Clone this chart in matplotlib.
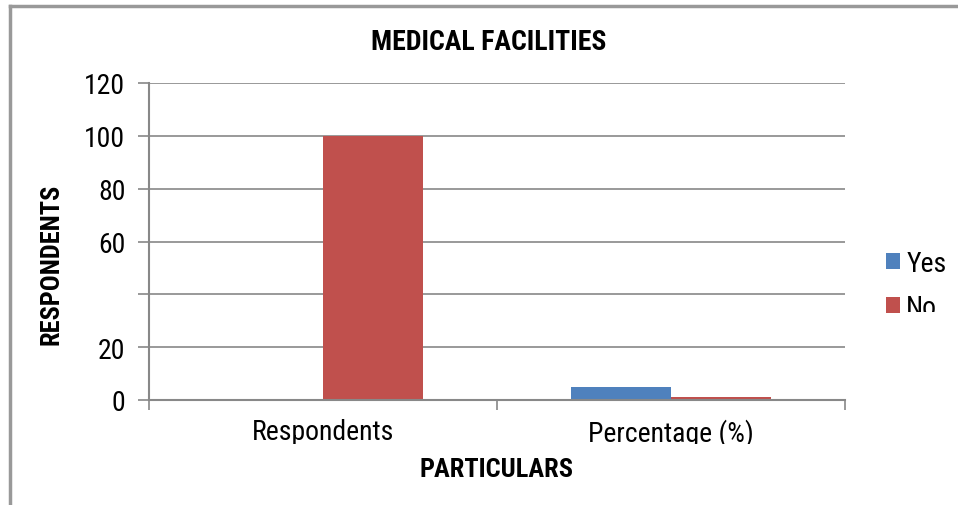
import numpy as np
import matplotlib
matplotlib.use('Agg')
import matplotlib.pyplot as plt
from matplotlib import font_manager
from matplotlib.transforms import Bbox, TransformedBbox

categories = ['Respondents', 'Percentage (%)']
yes_vals = [0, 5]
no_vals = [100, 1]
y_ticks = [0, 20, 40, 60, 80, 100, 120]
y_labels = ['0', '20', '', '60', '80', '100', '120']

names = {f.name for f in font_manager.fontManager.ttflist}
font = next(n for n in ['Liberation Sans Narrow', 'Roboto Condensed', 'PT Sans Narrow',
                        'Liberation Sans'] if n in names)
plt.rcParams['font.family'] = [font, 'DejaVu Sans']

grey = '#888888'
fig = plt.figure(figsize=(9.58, 5.06), dpi=100)
ax = fig.add_axes([149 / 958, 1 - 401 / 506, (845 - 149) / 958, (401 - 84) / 506])

x = np.arange(len(categories))
w = 0.287
ax.bar(x - w / 2, yes_vals, w, color='#4F81BD', label='Yes')
ax.bar(x + w / 2, no_vals, w, color='#C0504D', label='No')

ax.set_xlim(-0.5, 1.5)
ax.set_ylim(0, 120)
ax.set_yticks(y_ticks)
ax.set_yticklabels(y_labels, fontsize=20)
ax.set_xticks(x)
ax.set_xticklabels(categories, fontsize=20)
ax.set_xticks([-0.5, 0.5, 1.5], minor=True)
ax.tick_params(axis='x', which='major', length=0, pad=13)
ax.tick_params(axis='x', which='minor', length=7, color=grey, width=1.2)
ax.tick_params(axis='y', length=8, color=grey, width=1.2, pad=9)
ax.yaxis.grid(True, color=grey, linewidth=1.2)
ax.set_axisbelow(True)
for s in ['top', 'right']:
    ax.spines[s].set_visible(False)
for s in ['left', 'bottom']:
    ax.spines[s].set_color(grey)
    ax.spines[s].set_linewidth(1.5)

# category labels are cut off just under the baseline, as in the source
xclip = TransformedBbox(Bbox([[0, 1 - 445 / 506], [1, 1]]), fig.transFigure)
for t in ax.get_xticklabels():
    t.set_clip_box(xclip)
    t.set_clip_on(True)

fig.text(489 / 958, 1 - 43 / 506, 'MEDICAL FACILITIES', ha='center', va='center',
         fontsize=20, fontweight='bold')
fig.text(52 / 958, 1 - 264 / 506, 'RESPONDENTS', ha='center', va='center',
         rotation=90, fontsize=19, fontweight='bold')
fig.text(497 / 958, 1 - 470 / 506, 'PARTICULARS', ha='center', va='center',
         fontsize=19, fontweight='bold')

leg = fig.legend(loc='upper left', bbox_to_anchor=(875 / 958, 1 - 240 / 506),
                 frameon=False, fontsize=20, handlelength=0.5, handleheight=0.5,
                 handletextpad=0.22, labelspacing=0.6, borderaxespad=0)
clip = TransformedBbox(Bbox([[0, 1 - 313 / 506], [1, 1]]), fig.transFigure)
for t in leg.get_texts():
    t.set_clip_box(clip)
    t.set_clip_on(True)

# chart frame (top and left edges)
fig.add_artist(plt.Line2D([10 / 958, 10 / 958], [0, 1 - 7 / 506], color='#999999', lw=2.5))
fig.add_artist(plt.Line2D([10 / 958, 1], [1 - 7 / 506, 1 - 7 / 506], color='#999999', lw=2.5))

fig.savefig('out.png', dpi=100)
